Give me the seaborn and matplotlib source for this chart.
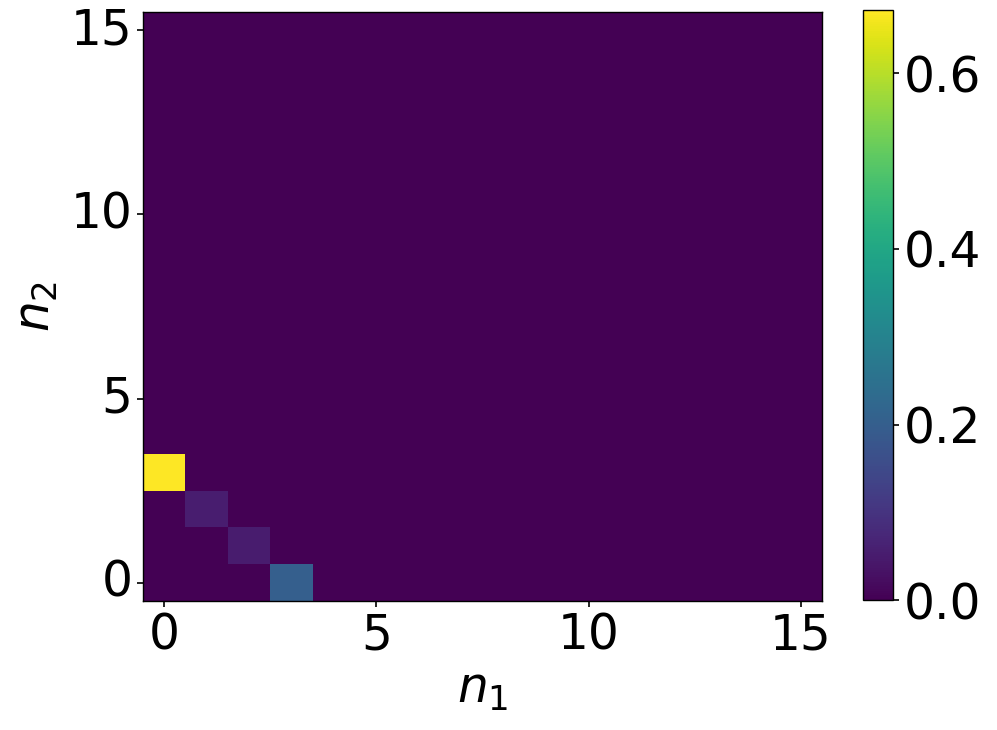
import matplotlib
matplotlib.use("Agg")
import matplotlib.pyplot as plt
import seaborn as sns
import numpy as np

# occupation probabilities P(n1, n2) on a 16x16 grid
n_max = 16
n1_nonzero = [0, 1, 2, 3]
n2_nonzero = [3, 2, 1, 0]
p_nonzero = [0.672, 0.055, 0.05, 0.2]
tick_values = [0, 5, 10, 15]
cbar_ticks = [0.0, 0.2, 0.4, 0.6]

prob = np.zeros((n_max, n_max))
for i, j, p in zip(n1_nonzero, n2_nonzero, p_nonzero):
    prob[j, i] = p  # rows = n2, cols = n1

fig = plt.figure(figsize=(9.97, 7.30), dpi=100)
ax = fig.add_axes([0.1434, 0.1767, 0.6811, 0.8069])
cax = fig.add_axes([0.8656, 0.178, 0.0301, 0.808])

sns.heatmap(prob, cmap="viridis", vmin=0, vmax=max(p_nonzero),
            ax=ax, cbar_ax=cax, cbar_kws={"ticks": cbar_ticks})

ax.set_ylim(0, n_max)
ax.set_xlim(0, n_max)
ax.set_xticks([t + 0.5 for t in tick_values])
ax.set_xticklabels(tick_values, rotation=0)
ax.set_yticks([t + 0.5 for t in tick_values])
ax.set_yticklabels(tick_values, rotation=0)
ax.tick_params(labelsize=35, length=4, width=1.2)
for s in ax.spines.values():
    s.set_visible(True)
    s.set_linewidth(1.0)
ax.set_xlabel("$n_1$", fontsize=35)
ax.set_ylabel("$n_2$", fontsize=35, labelpad=8)

cax.tick_params(labelsize=35, length=4, width=1.2)
cax.set_yticklabels(["0.0", "0.2", "0.4", "0.6"])
cb = ax.collections[0].colorbar
cb.outline.set_visible(True)
cb.outline.set_linewidth(1.0)

fig.savefig("out.png", dpi=100)
